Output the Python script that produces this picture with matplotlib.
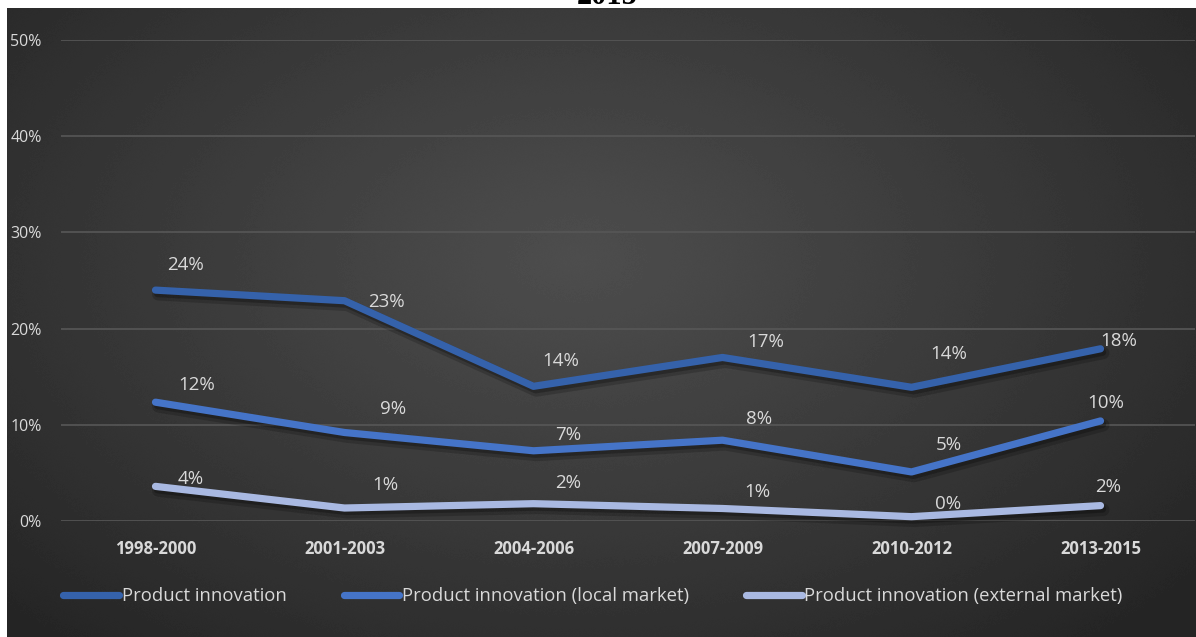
import numpy as np
import matplotlib
matplotlib.use("Agg")
from matplotlib import pyplot as plt
from matplotlib import patheffects as pe
from matplotlib.ticker import PercentFormatter

# Periods and shares of firms (%)
periods = ["1998-2000", "2001-2003", "2004-2006", "2007-2009", "2010-2012", "2013-2015"]
product = [24.0, 22.9, 14.0, 17.0, 13.9, 17.9]
local_market = [12.35, 9.2, 7.3, 8.4, 5.1, 10.4]
external_market = [3.6, 1.35, 1.8, 1.3, 0.45, 1.6]

names = ["Product innovation", "Product innovation (local market)",
         "Product innovation (external market)"]
colors = ["#3562ab", "#4574c8", "#a9b9e2"]

# label offsets in pixels (dx, dy) from each point
offsets = [
    [(30, 25), (42, -1), (27, 25), (43, 15), (37, 33), (18, 8)],
    [(41, 17), (49, 23), (35, 16), (37, 21), (37, 27), (5, 18)],
    [(35, 7), (41, 23), (35, 21), (35, 16), (37, 13), (8, 19)],
]

W, H = 1196, 637
fig = plt.figure(figsize=(W / 100, H / 100), dpi=100)
fig.patch.set_facecolor("white")

# dark radial gradient behind the chart (dithered to avoid banding)
bg = fig.add_axes([7 / W, 0, (W - 7) / W, (H - 8) / H])
bg.set_axis_off()
yy, xx = np.mgrid[0:629, 0:1189]
r = np.sqrt(((xx - 570) / 800) ** 2 + ((yy - 250) / 500) ** 2)
shade = 0x4d - (0x4d - 0x25) * np.clip(r, 0, 1) ** 1.1
shade = shade + np.random.default_rng(0).uniform(-0.6, 0.6, shade.shape)
bg.imshow(shade, cmap="gray", vmin=0, vmax=255, aspect="auto",
          interpolation="nearest")

# bit of the title that shows above the chart
fig.text(607 / W, (H - 4) / H, "2015", ha="center", va="baseline",
         fontsize=22, fontweight="bold", family="Liberation Serif", color="black")

ax = fig.add_axes([61 / W, (H - 521) / H, 1134 / W, 481 / H])
ax.set_facecolor("none")
ax.set_xlim(-0.5, 5.5)
ax.set_ylim(0, 50)
ax.set_yticks(range(0, 51, 10))
ax.yaxis.set_major_formatter(PercentFormatter(decimals=0))
ax.grid(axis="y", color="#575757", linewidth=1.2)
ax.set_axisbelow(True)
for s in ax.spines.values():
    s.set_visible(False)
ax.set_xticks(range(len(periods)))
ax.set_xticklabels(periods, fontweight="bold", family="Open Sans", fontsize=12)
ax.tick_params(axis="x", length=0, pad=14, colors="#d9d9d9")
ax.tick_params(axis="y", length=0, pad=14, colors="#d9d9d9", labelsize=11.5)
for t in ax.get_yticklabels():
    t.set_family("Open Sans")

shadow = [pe.SimpleLineShadow(offset=(2, -3), shadow_color="black", alpha=0.18,
                              linewidth=9),
          pe.SimpleLineShadow(offset=(1.5, -2.5), shadow_color="black", alpha=0.25),
          pe.Normal()]

x = np.arange(len(periods))
for vals, name, col, offs in zip([product, local_market, external_market],
                                 names, colors, offsets):
    ax.plot(x, vals, color=col, lw=5.2, solid_capstyle="round",
            solid_joinstyle="round", label=name, clip_on=False,
            path_effects=shadow)
    for xi, v, (dx, dy) in zip(x, vals, offs):
        ax.annotate(f"{v:.0f}%", (xi, v), xytext=(dx, dy), textcoords="offset pixels",
                    ha="center", va="center", fontsize=13.5, family="Open Sans",
                    color="#d9d9d9", annotation_clip=False)

leg = ax.legend(loc="center", bbox_to_anchor=(593 / W, (H - 596) / H),
                bbox_transform=fig.transFigure, ncol=3, frameon=False,
                handlelength=3.0, handletextpad=0.15, columnspacing=3.1,
                prop={"family": "Open Sans", "size": 13.3})
for t in leg.get_texts():
    t.set_color("#d9d9d9")
for h in leg.legend_handles:
    h.set_path_effects([])
    h.set_linewidth(5.2)
    h.set_solid_capstyle("round")

fig.savefig("out.png", dpi=100)
